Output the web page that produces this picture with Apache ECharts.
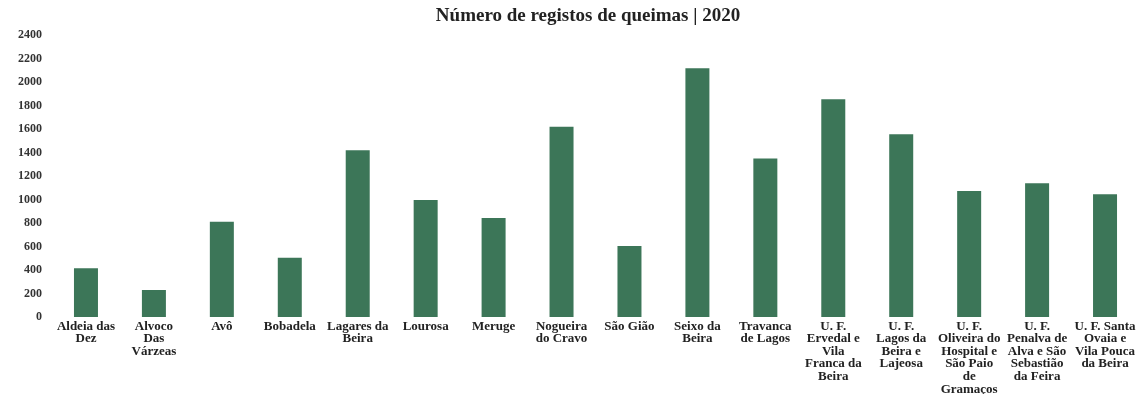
<!DOCTYPE html>
<html>
<head>
<meta charset="utf-8">
<script src="https://cdn.jsdelivr.net/npm/echarts@6/dist/echarts.min.js"></script>
<style>
  html, body { margin: 0; padding: 0; background: #fff; }
  #chart { width: 1141px; height: 394px; }
</style>
</head>
<body>
<div id="chart"></div>
<script>
// freguesias (categorias do eixo x)
var categories = [
  'Aldeia das\nDez',
  'Alvoco\nDas\nVárzeas',
  'Avô',
  'Bobadela',
  'Lagares da\nBeira',
  'Lourosa',
  'Meruge',
  'Nogueira\ndo Cravo',
  'São Gião',
  'Seixo da\nBeira',
  'Travanca\nde Lagos',
  'U. F.\nErvedal e\nVila\nFranca da\nBeira',
  'U. F.\nLagos da\nBeira e\nLajeosa',
  'U. F.\nOliveira do\nHospital e\nSão Paio\nde\nGramaços',
  'U. F.\nPenalva de\nAlva e São\nSebastião\nda Feira',
  'U. F. Santa\nOvaia e\nVila Pouca\nda Beira'
];
// número de registos de queimas 2020
var registos = [415, 230, 810, 505, 1420, 995, 843, 1620, 604, 2116, 1350, 1853, 1555, 1072, 1138, 1044];
var yTicks = [0, 200, 400, 600, 800, 1000, 1200, 1400, 1600, 1800, 2000, 2200, 2400];

var font = '"Liberation Serif", "Times New Roman", serif';
var chart = echarts.init(document.getElementById('chart'));
chart.setOption({
  animation: false,
  title: {
    text: 'Número de registos de queimas | 2020',
    left: 583,
    top: 2,
    textAlign: 'center',
    textStyle: { fontFamily: font, fontWeight: 'bold', fontSize: 19, color: '#222' }
  },
  grid: { left: 52, right: 2, top: 35, bottom: 77, outerBoundsMode: 'none' },
  xAxis: {
    type: 'category',
    data: categories,
    axisLine: { show: false },
    axisTick: { show: false },
    axisLabel: {
      interval: 0,
      margin: 3,
      fontFamily: font,
      fontWeight: 'bold',
      fontSize: 13,
      lineHeight: 12.6,
      color: '#222'
    }
  },
  yAxis: {
    type: 'value',
    min: yTicks[0],
    max: yTicks[yTicks.length - 1],
    interval: 200,
    splitLine: { show: false },
    axisLine: { show: false },
    axisTick: { show: false },
    axisLabel: {
      margin: 10,
      fontFamily: font,
      fontWeight: 'bold',
      fontSize: 12,
      color: '#333',
      formatter: function (v) { return String(v); }
    }
  },
  series: [{
    type: 'bar',
    data: registos,
    barWidth: 24,
    itemStyle: { color: '#3c7658' }
  }]
});
</script>
</body>
</html>
